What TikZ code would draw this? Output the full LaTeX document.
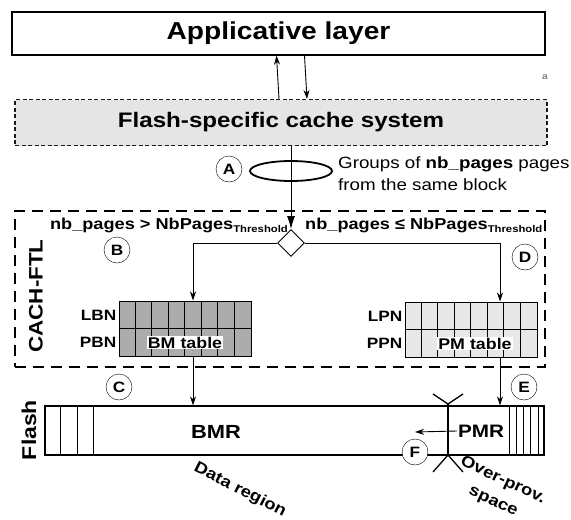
\documentclass[tikz,border=0pt]{standalone}
\usepackage{fontspec}
\setmainfont[FakeStretch=1.15]{Liberation Sans}
\usepackage{tikz}
\usetikzlibrary{positioning,shapes.geometric,arrows.meta}
\newcommand\setfs[1]{\fontsize{#1}{#1}\selectfont}
\newcommand\thr{\raisebox{-3pt}{\setfs{9.8}Threshold}}
\tikzset{lay/.style={draw,line width=1.4pt,minimum width=533pt,minimum height=43pt,font=\bfseries\setfs{24.5}},
	cachebox/.style={draw=black!90,fill=gray!20,line width=1.1pt,dash pattern=on 4pt off 2.5pt,minimum width=532pt,minimum height=46pt,font=\bfseries\setfs{21}},
	ftlbox/.style={draw,line width=2pt,dash pattern=on 11pt off 7pt,minimum width=530pt,minimum height=156pt},
	letter/.style={draw,circle,fill=white,minimum size=26pt,inner sep=0pt,font=\bfseries\setfs{15}},
	thres/.style={inner sep=0pt,font=\bfseries\setfs{15.8}},
	tabl/.style={draw,line width=1pt,minimum width=132pt,minimum height=55pt,inner sep=0pt},
	rowlab/.style={inner sep=2pt,font=\bfseries\setfs{15}},
	tlab/.style={fill=white,inner sep=1pt,font=\bfseries\setfs{15.5}},
	reg/.style={inner sep=1pt,font=\bfseries\setfs{19}},
	arr/.style={line width=0.9pt,-{Stealth[length=9pt,width=6pt]}},
	bigarr/.style={line width=0.9pt,-{Latex[length=13pt,width=8pt]}}}

\begin{document}
\begin{tikzpicture}[x=1pt,y=-1pt]
	\useasboundingbox (0,0) rectangle (571,520);
	\def\cw{16.5}
	\node[lay] (app) at (278.5,33.5) {Applicative layer};
	\node[cachebox] (cache) at (281,122.5) {Flash-specific cache system};
	\draw[arr] ([xshift=-2]cache.north) -- ([xshift=-2]app.south);
	\draw[arr] ([xshift=26]app.south) -- ([xshift=26]cache.north);
	\node[text=gray,font=\bfseries\setfs{9}] (stray) at (545,77) {a};
	
	\node[ftlbox] (ftl) at (280,289) {};
	\node[rotate=90,font=\bfseries\setfs{19.5}] (ftllab) at (36,296) {CACH-FTL};
	
	\node[draw,ellipse,line width=1.8pt,minimum width=82pt,minimum height=20pt] (grp) at (291,171) {};
	\node[letter] (A) at (229,169) {A};
	\node[anchor=west,align=left,inner sep=0pt,font=\fontsize{16.3}{22}\selectfont] (grptxt) at (338,174) {Groups of \textbf{nb\_pages} pages\\from the same block};
	
	\node[draw,diamond,fill=white,minimum size=27pt,inner sep=0pt,line width=0.9pt] (dec) at (291,243) {};
	\draw[bigarr] (cache.south -| dec) -- (dec.north);
	\node[thres,anchor=base east] (gt) at (288,229) {nb\_pages > NbPages\thr};
	\node[thres,anchor=base west] (le) at (305,229) {nb\_pages ≤ NbPages\thr};
	\node[letter] (B) at (117,250) {B};
	\node[letter] (D) at (525,257) {D};
	
	\node[tabl,fill=gray!65] (bm) at (185,328.5) {};
	\node[tabl,fill=gray!18] (pm) at (471,329.5) {};
	\foreach \t in {bm,pm}{
		\foreach \i in {1,...,7}
			\draw[line width=1pt] ([xshift=\i*\cw]\t.north west) -- ([xshift=\i*\cw]\t.south west);
		\draw[line width=1pt] (\t.west) -- (\t.east);
	}
	\node[tlab] (bmlab) at ([yshift=-14]bm.center) {BM table};
	\node[tlab] (pmlab) at ([yshift=-14,xshift=4]pm.center) {PM table};
	\node[rowlab,anchor=east] (lbn) at ([yshift=13.5]bm.west) {LBN};
	\node[rowlab,anchor=east] (pbn) at ([yshift=-13.5]bm.west) {PBN};
	\node[rowlab,anchor=east] (lpn) at ([yshift=13.5]pm.west) {LPN};
	\node[rowlab,anchor=east] (ppn) at ([yshift=-13.5]pm.west) {PPN};
	\coordinate (bmin) at ([xshift=8]bm.north);
	\coordinate (pmin) at ([xshift=29]pm.north);
	\draw[arr] (dec.west) -| (bmin);
	\draw[arr] (dec.east) -| (pmin);
	
	\node[draw,line width=1.4pt,minimum width=499pt,minimum height=49pt,inner sep=0pt] (flash) at (294.5,430.5) {};
	\foreach \i in {1,2,3}
		\draw ([xshift=\i*16.2]flash.north west) -- ([xshift=\i*16.2]flash.south west);
	\foreach \i in {0,...,4}
		\draw ([xshift=-7-\i*7.2]flash.north east) -- ([xshift=-7-\i*7.2]flash.south east);
	\node[rotate=90,font=\bfseries\setfs{20}] (flashlab) at (29,430) {Flash};
	\coordinate (bmout) at ([xshift=8]bm.south);
	\coordinate (pmout) at ([xshift=29]pm.south);
	\draw[arr] (bmout) -- (bmout |- flash.north);
	\draw[arr] (pmout) -- (pmout |- flash.north);
	\node[letter] (C) at (119,387) {C};
	\node[letter] (E) at (524,387) {E};
	
	\draw[line width=2.4pt] (448,404) -- (448,455);
	\draw[line width=1.3pt] (433,394) -- (448,404) -- (463,394);
	\draw[line width=1.3pt] (433,472) -- (448,455) -- (463,472);
	\node[reg] (bmr) at (216,432) {BMR};
	\node[reg,font=\bfseries\setfs{18}] (pmr) at (481,431) {PMR};
	\coordinate (fend) at (415,432);
	\draw[arr] (pmr.west) -- (fend);
	\node[letter] (F) at (415,452) {F};
	\node[rotate=-27,font=\bfseries\setfs{16}] (data) at (240,490) {Data region};
	\node[rotate=-25,align=center,font=\bfseries\fontsize{16}{23}\selectfont] (ovp) at (498,491) {Over-prov.\\space};
\end{tikzpicture}
\end{document}
